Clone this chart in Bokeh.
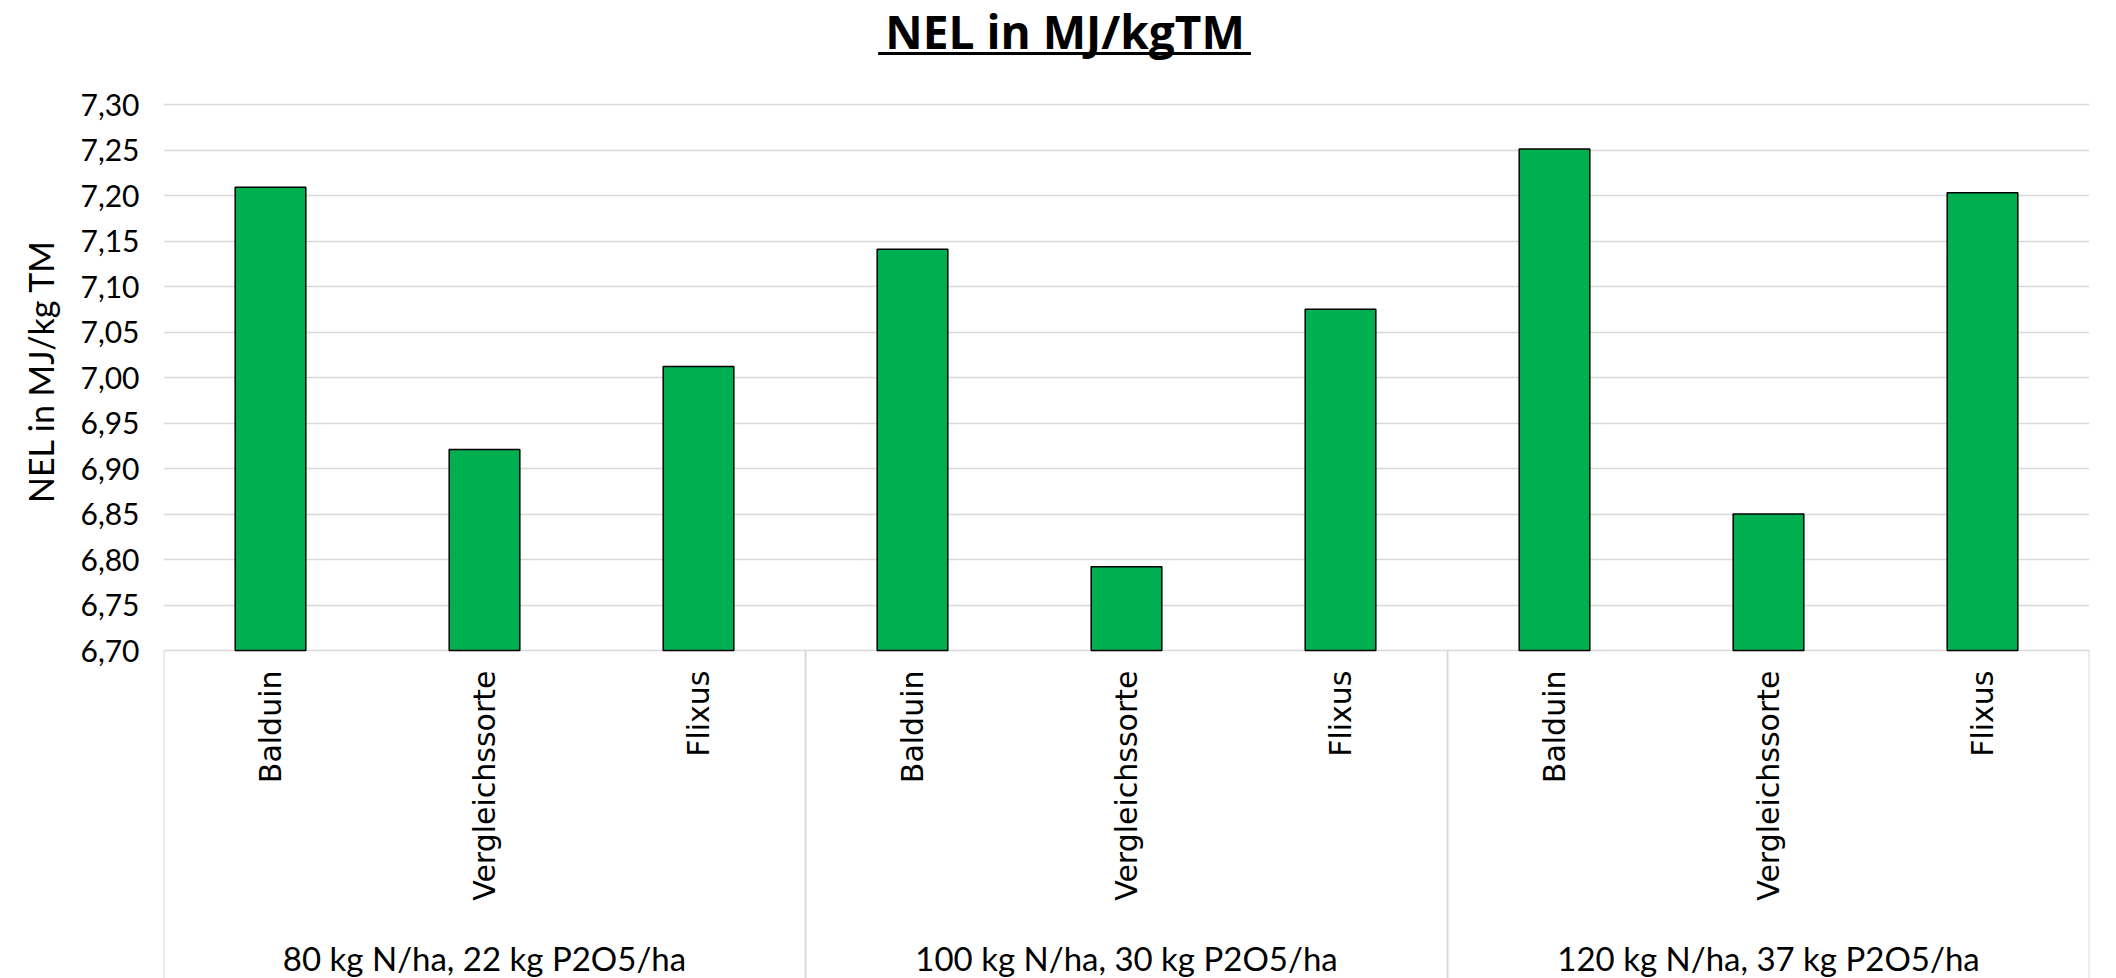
import math
from bokeh.plotting import figure
from bokeh.models import FactorRange, Range1d, FixedTicker, ColumnDataSource, CustomJSTickFormatter, Title
from bokeh.core.properties import value
from bokeh.embed import file_html
from bokeh.resources import INLINE

# ---------------- data ----------------
title_text = " NEL in MJ/kgTM"
y_label = "NEL in MJ/kg TM"
groups = ["80 kg N/ha, 22 kg P2O5/ha", "100 kg N/ha, 30 kg P2O5/ha", "120 kg N/ha, 37 kg P2O5/ha"]
varieties = ["Balduin", "Vergleichssorte", "Flixus"]
nel_80 = [7.209, 6.921, 7.012]
nel_100 = [7.141, 6.792, 7.075]
nel_120 = [7.251, 6.850, 7.203]
y_ticks = [6.70, 6.75, 6.80, 6.85, 6.90, 6.95, 7.00, 7.05, 7.10, 7.15, 7.20, 7.25, 7.30]
y_tick_labels = ["6,70", "6,75", "6,80", "6,85", "6,90", "6,95", "7,00", "7,05", "7,10", "7,15", "7,20", "7,25", "7,30"]

# ---------------- layout (pixels) ----------------
W, H = 2116, 978
frame_left, frame_right = 162, 27
px_top, px_bottom = 104, 650          # pixel rows of y max / y min
y_min, y_max = y_ticks[0], y_ticks[-1]
ppu = (px_bottom - px_top) / (y_max - y_min)
y_start = y_min - (H - px_bottom) / ppu
y_end = y_max + px_top / ppu
frame_w = W - frame_left - frame_right
n_fact = len(groups) * len(varieties)

def px_to_x(px):
    return (px - frame_left) / frame_w * n_fact

def px_to_y(py):
    return y_max + (px_top - py) / ppu

factors = [(g, v) for g in groups for v in varieties]
values = nel_80 + nel_100 + nel_120

p = figure(width=W, height=H, title=None,
           x_range=FactorRange(*factors, factor_padding=0, group_padding=0, range_padding=0),
           y_range=Range1d(y_start, y_end),
           x_axis_location=None,
           output_backend="svg", toolbar_location=None,
           min_border_left=frame_left, min_border_right=frame_right,
           min_border_top=0, min_border_bottom=0)
p.outline_line_color = None
p.background_fill_color = "white"
p.border_fill_color = "white"

# grid
p.xgrid.visible = False
p.ygrid.ticker = FixedTicker(ticks=y_ticks)
p.ygrid.bounds = (y_min, y_max)
p.ygrid.grid_line_color = "#D9D9D9"
p.ygrid.grid_line_width = 1.5

# y axis
ax = p.yaxis[0]
ax.ticker = FixedTicker(ticks=y_ticks)
ax.bounds = (y_min, y_max)
ax.formatter = CustomJSTickFormatter(args=dict(tvals=y_ticks, tlabels=y_tick_labels), code="""
let best = 0;
for (let i = 0; i < tvals.length; i++) {
  if (Math.abs(tvals[i] - tick) < Math.abs(tvals[best] - tick)) best = i;
}
return tlabels[best];
""")
ax.axis_line_color = None
ax.major_tick_line_color = None
ax.minor_tick_line_color = None
ax.major_tick_out = 0
ax.major_tick_in = 0
ax.major_label_standoff = 24
ax.major_label_text_font = "Lato"
ax.major_label_text_font_size = "30px"
ax.major_label_text_color = "black"

# y axis title: a side title starting at a fixed distance from the bottom,
# so that it is centred on the value range
label_len = 259
label_mid = 373
p.add_layout(Title(text=y_label, align="left", offset=H - (label_mid + label_len / 2),
                   text_font="Lato", text_font_size="34px", text_font_style="normal",
                   text_color="black", standoff=34), "left")

# bars
src = ColumnDataSource(dict(x=factors, top=values))
p.vbar(x="x", top="top", bottom=y_min, width=0.33, source=src,
       fill_color="#00B050", line_color="black", line_width=1.5)

# category box separators
bounds_x = [i * len(varieties) for i in range(len(groups) + 1)]
p.segment(x0=bounds_x, y0=[y_min] * len(bounds_x), x1=bounds_x, y1=[y_start] * len(bounds_x),
          line_color="#D9D9D9", line_width=2)

# variety labels (rotated)
p.text(x=factors, y=[px_to_y(px_bottom + 20)] * len(factors), text=varieties * len(groups),
       angle=math.pi / 2, text_align="right", text_baseline="middle",
       text_font=value("DejaVu Sans"), text_font_size="30px", text_color="black")

# group labels
p.text(x=groups, y=[px_to_y(957)] * len(groups), text=groups,
       text_align="center", text_baseline="middle",
       text_font=value("Lato"), text_font_size="33px", text_color="black")

# title + underline
tx = px_to_x(1070)
p.text(x=[tx], y=[px_to_y(30)], text=[title_text], text_align="center", text_baseline="middle",
       text_font=value("Open Sans"), text_font_style="bold", text_font_size="46px", text_color="black")
p.segment(x0=[px_to_x(877)], y0=[px_to_y(53)], x1=[px_to_x(1250)], y1=[px_to_y(53)],
          line_color="black", line_width=3)

open("out.html", "w").write(file_html(p, INLINE))
